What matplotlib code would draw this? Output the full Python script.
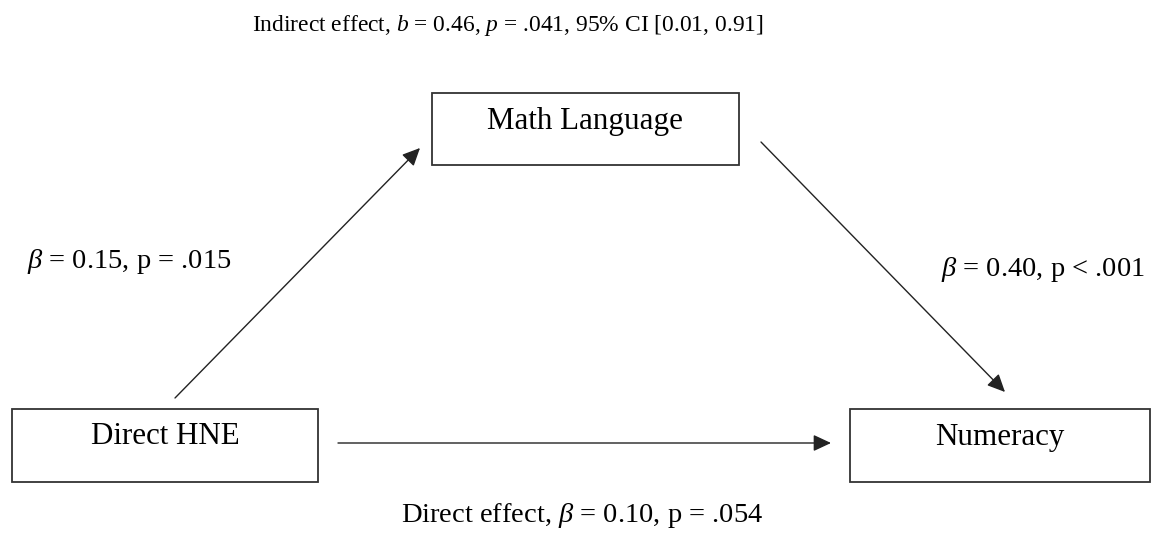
import matplotlib
matplotlib.use("Agg")
from matplotlib import pyplot as plt
from matplotlib.patches import Rectangle

# model values
nodes = ["Direct HNE", "Math Language", "Numeracy"]
path_betas = [0.15, 0.40, 0.10]          # a path, b path, direct path
path_p = ["= .015", "< .001", "= .054"]
indirect_b = 0.46
indirect_p = ".041"
indirect_ci = [0.01, 0.91]

plt.rcParams['font.family'] = ['Liberation Serif', 'DejaVu Serif']
plt.rcParams['mathtext.fontset'] = 'custom'
plt.rcParams['mathtext.rm'] = 'Liberation Serif'
plt.rcParams['mathtext.it'] = 'Liberation Serif:italic'

fig = plt.figure(figsize=(11.51, 5.39), dpi=100)
ax = fig.add_axes([0, 0, 1, 1])
ax.set_xlim(0, 1151)
ax.set_ylim(539, 0)
ax.axis('off')

box_fs = 22.3
lab_fs = 20.5
title_fs = 16.9
edge = '#333333'

# boxes: x0, y0, w, h and label y
boxes = {
    "Direct HNE": (12, 409, 306, 73, 437),
    "Math Language": (432, 93, 307, 72, 122),
    "Numeracy": (850, 409, 300, 73, 437),
}
for name in nodes:
    x0, y0, w, h, ty = boxes[name]
    ax.add_patch(Rectangle((x0, y0), w, h, fill=False, ec=edge, lw=1.3))
    ax.text(x0 + w / 2, ty, name, ha='center', va='center', fontsize=box_fs)

arrow = dict(arrowstyle='-|>,head_length=0.6,head_width=0.28', color='#222222',
             lw=1.0, shrinkA=0, shrinkB=0, mutation_scale=18)
ax.annotate('', xy=(420, 148), xytext=(175, 398), arrowprops=arrow)
ax.annotate('', xy=(1005, 392), xytext=(761, 142), arrowprops=arrow)
ax.annotate('', xy=(831, 443), xytext=(338, 443), arrowprops=arrow)

ax.text(508, 25, f"Indirect effect, $b$ = {indirect_b:.2f}, $p$ = {indirect_p}, "
        f"95% CI [{indirect_ci[0]:.2f}, {indirect_ci[1]:.2f}]",
        ha='center', va='center', fontsize=title_fs)
ax.text(27, 261, rf"$\beta$ = {path_betas[0]:.2f}, p {path_p[0]}",
        ha='left', va='center', fontsize=lab_fs)
ax.text(1145, 269, rf"$\beta$ = {path_betas[1]:.2f}, p {path_p[1]}",
        ha='right', va='center', fontsize=lab_fs)
ax.text(582, 515, rf"Direct effect, $\beta$ = {path_betas[2]:.2f}, p {path_p[2]}",
        ha='center', va='center', fontsize=lab_fs)

fig.savefig('out.png', dpi=100)
